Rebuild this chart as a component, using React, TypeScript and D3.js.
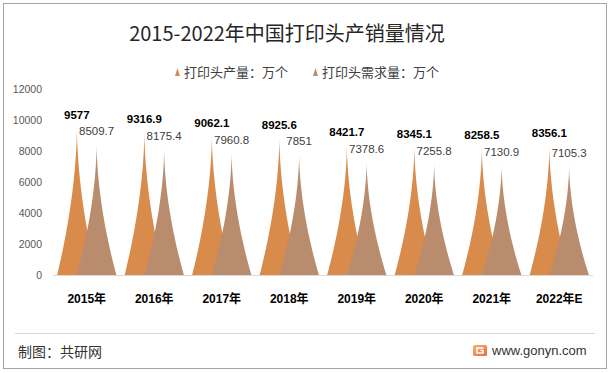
import React from 'react';
import * as d3 from 'd3';

const categories = ['2015年', '2016年', '2017年', '2018年', '2019年', '2020年', '2021年', '2022年E'];
const production = [9577, 9316.9, 9062.1, 8925.6, 8421.7, 8345.1, 8258.5, 8356.1];
const demand = [8509.7, 8175.4, 7960.8, 7851, 7378.6, 7255.8, 7130.9, 7105.3];
const yTicks = [0, 2000, 4000, 6000, 8000, 10000, 12000];
const seriesNames = ['打印头产量：万个', '打印头需求量：万个'];

const W = 612;
const H = 373;
const plot = { left: 53, right: 593, top: 89, bottom: 275 };
const colors = ['#D88B4B', '#BA8C6E'];
const latin = '"Liberation Sans", Arial, "Noto Sans CJK SC", sans-serif';
const cjk = '"Noto Sans CJK SC", "Liberation Sans", sans-serif';

// spike shape: concave sides that flare out towards the base
const peakPath = (cx: number, hw: number, base: number, top: number) => {
  const steps = d3.range(0, 31).map(i => i / 30);
  const left = steps.map(f => [cx - hw * Math.pow(1 - f, 1.8), base - f * (base - top)] as [number, number]);
  const right = steps.slice().reverse().map(f => [cx + hw * Math.pow(1 - f, 1.8), base - f * (base - top)] as [number, number]);
  return d3.line()([...left, ...right]) + 'Z';
};

export default function App() {
  const x = d3.scaleBand<string>().domain(categories).range([plot.left, plot.right]).padding(0);
  const y = d3.scaleLinear().domain([0, 12000]).range([plot.bottom, plot.top]);
  const bw = x.bandwidth();
  const w = bw * 0.585; // bar width, 50% overlap
  const center = (c: string) => (x(c) ?? 0) + bw / 2;
  const series = [production, demand];

  return (
    <svg width={W} height={H} style={{ position: 'absolute', left: 0, top: 0, background: '#fff' }}>
      <rect x={3.5} y={3.5} width={603} height={365} fill="#fff" stroke="#A6A6A6" strokeWidth={1} />

      <text x={287} y={41} textAnchor="middle" fontFamily={cjk} fontSize={20} fill="#262626">
        2015-2022年中国打印头产销量情况
      </text>

      {/* legend */}
      {seriesNames.map((name, i) => {
        const lx = i === 0 ? 175 : 313;
        return (
          <g key={name}>
            <path d={`M${lx},76 L${lx + 2.5},68 L${lx + 5},76 Z`} fill={colors[i]} />
            <text x={lx + 9} y={76.5} fontFamily={cjk} fontSize={13} fill="#404040">{name}</text>
          </g>
        );
      })}

      {/* y axis labels */}
      {yTicks.map(t => (
        <text key={t} x={42} y={y(t) + 4} textAnchor="end" fontFamily={latin} fontSize={10.5} fill="#595959">
          {t}
        </text>
      ))}

      {/* bars */}
      {series.map((vals, si) => (
        <g key={si}>
          {categories.map((c, i) => {
            const cx = center(c) + (si === 0 ? -w / 4 : w / 4);
            return <path key={c} d={peakPath(cx, w / 2, y(0), y(vals[i]))} fill={colors[si]} />;
          })}
        </g>
      ))}

      <line x1={plot.left} x2={plot.right} y1={y(0) + 0.5} y2={y(0) + 0.5} stroke="#D9D9D9" strokeWidth={1} />

      {/* data labels */}
      {categories.map((c, i) => (
        <g key={c}>
          <text x={center(c) - w / 4} y={y(production[i]) - 8} textAnchor="middle" fontFamily={latin}
            fontSize={11.5} fontWeight="bold" fill="#000">{production[i]}</text>
          <text x={center(c) + w / 4} y={y(demand[i]) - 8} textAnchor="middle" fontFamily={latin}
            fontSize={11.5} fill="#404040">{demand[i]}</text>
        </g>
      ))}

      {/* x axis labels */}
      {categories.map(c => (
        <text key={c} x={center(c)} y={302.5} textAnchor="middle" fontFamily={latin} fontSize={12}
          fontWeight="bold" fill="#000">{c}</text>
      ))}

      {/* footer */}
      <line x1={15} x2={595} y1={333.5} y2={333.5} stroke="#D9D9D9" strokeWidth={1} />
      <text x={18} y={357} fontFamily={cjk} fontSize={14} fill="#333">制图：共研网</text>
      <defs>
        <linearGradient id="logoGrad" x1="0" y1="0" x2="1" y2="1">
          <stop offset="0%" stopColor="#F7B26A" />
          <stop offset="100%" stopColor="#EC6A3C" />
        </linearGradient>
      </defs>
      <rect x={473} y={345} width={14} height={11} rx={1.5} fill="url(#logoGrad)" />
      <path d="M483.5,348 L477,348 L477,353 L483,353 L483,350.5 L480.5,350.5" fill="none" stroke="#fff" strokeWidth={1.6} />
      <text x={492} y={354.5} fontFamily={latin} fontSize={13} fill="#333">www.gonyn.com</text>
    </svg>
  );
}
